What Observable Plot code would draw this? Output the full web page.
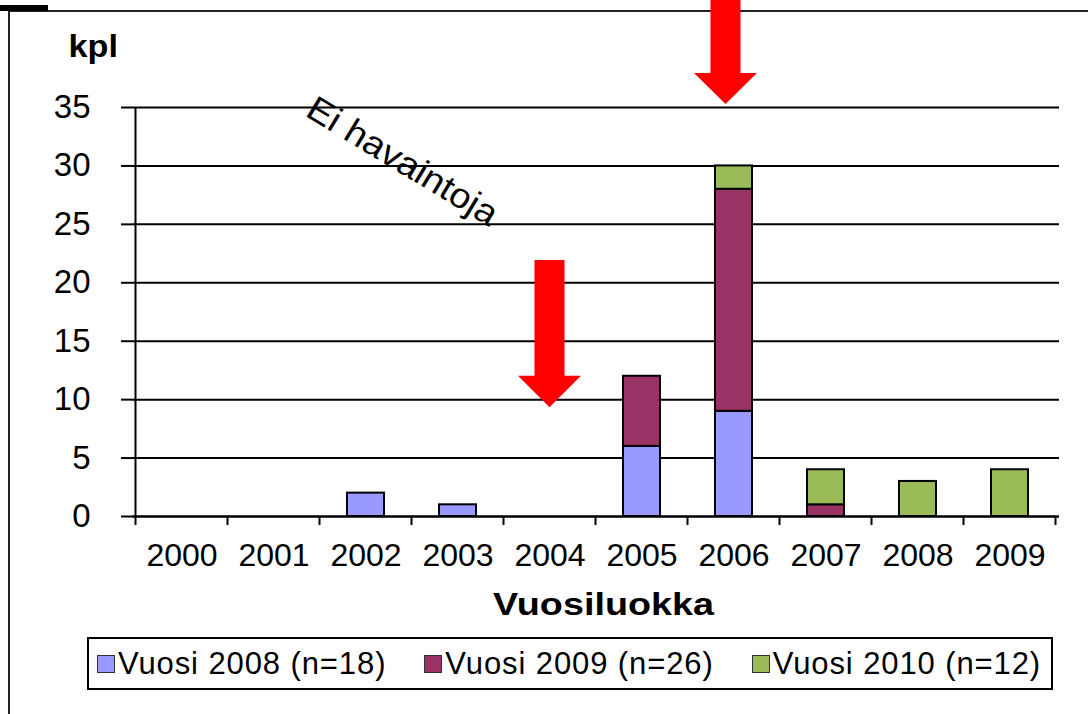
<!DOCTYPE html>
<html>
<head>
<meta charset="utf-8">
<script src="https://cdn.jsdelivr.net/npm/d3@7"></script>
<script src="https://cdn.jsdelivr.net/npm/@observablehq/plot@0.6"></script>
<style>
  html, body { margin: 0; padding: 0; background: white; }
  #wrap { position: relative; width: 1088px; height: 714px; overflow: hidden; font-family: "Liberation Sans", Arial, sans-serif; color: black; }
  #frameTop { position: absolute; left: 9px; top: 10px; width: 1079px; height: 2px; background: #222; }
  #frameLeft { position: absolute; left: 8px; top: 10px; width: 2px; height: 704px; background: #222; }
  #stub { position: absolute; left: 0; top: 5px; width: 48px; height: 6px; background: black; }
  #chart { position: absolute; left: 0; top: 0; }
  #legend { position: absolute; left: 87px; top: 637px; width: 966px; height: 53px; border: 2px solid black; box-sizing: border-box; background: white;
            display: flex; align-items: center; font-size: 31px; letter-spacing: 0.9px; white-space: nowrap; }
  .item { display: flex; align-items: center; }
  .sw { width: 16px; height: 16px; border: 1.5px solid #333; margin-right: 3px; }
</style>
</head>
<body>
<div id="wrap">
  <div id="frameTop"></div>
  <div id="frameLeft"></div>
  <div id="stub"></div>
  <div id="chart"></div>
  <div id="legend"></div>
</div>
<script>
const years = ["2000", "2001", "2002", "2003", "2004", "2005", "2006", "2007", "2008", "2009"];
const seriesNames = ["Vuosi 2008 (n=18)", "Vuosi 2009 (n=26)", "Vuosi 2010 (n=12)"];
const seriesColors = ["#9999FF", "#993366", "#9BBB59"];
const values2008 = [0, 0, 2, 1, 0, 6, 9, 0, 0, 0];
const values2009 = [0, 0, 0, 0, 0, 6, 19, 1, 0, 0];
const values2010 = [0, 0, 0, 0, 0, 0, 2, 3, 3, 4];
const yTicks = [0, 5, 10, 15, 20, 25, 30, 35];
const yLabel = "kpl";
const xLabel = "Vuosiluokka";
const noteText = "Ei havaintoja";
// arrow annotations: category, value at shaft top, value at head base, value at tip
const arrowYears = ["2004", "2006"];
const arrowTop = [21.9, 46];
const arrowBase = [12.0, 37.9];
const arrowTip = [9.3, 35.25];

const allSeries = [values2008, values2009, values2010];
const data = [];
allSeries.forEach((vals, s) => vals.forEach((v, i) => {
  if (v > 0) data.push({year: years[i], series: seriesNames[s], value: v});
}));

const W = 1088, H = 625;
const plot = Plot.plot({
  width: W, height: H,
  marginLeft: 132, marginRight: 29, marginTop: 107, marginBottom: 109,
  style: {background: "transparent", fontFamily: "'Liberation Sans', Arial, sans-serif", color: "black", overflow: "visible"},
  x: {type: "band", domain: years, paddingInner: 0.6, paddingOuter: 0.3, axis: null},
  y: {domain: [0, 35], axis: null},
  color: {domain: seriesNames, range: seriesColors},
  marks: [
    Plot.gridY(yTicks, {stroke: "black", strokeOpacity: 1, strokeWidth: 2}),
    Plot.barY(data, {x: "year", y: "value", fill: "series", stroke: "black", strokeWidth: 2}),
    Plot.axisY(yTicks, {tickSize: 11, tickPadding: 31, fontSize: 33, label: null, strokeWidth: 2}),
    Plot.axisX({tickSize: 0, tickPadding: 27, fontSize: 32, label: null}),
    Plot.ruleY([0], {stroke: "black", strokeWidth: 2})
  ]
});
document.getElementById("chart").appendChild(plot);

const xs = plot.scale("x");
const ys = plot.scale("y");
const step = xs.step;
const bw = xs.bandwidth;
const center = (yr) => xs.apply(yr) + bw / 2;
const svg = d3.select(plot);
const g = svg.append("g");

const y0 = ys.apply(0), yTop = ys.apply(35);
const xLeft = center(years[0]) - step / 2;
const xRight = center(years[years.length - 1]) + step / 2;
// left axis line
g.append("line").attr("x1", xLeft).attr("x2", xLeft).attr("y1", yTop).attr("y2", y0)
  .attr("stroke", "black").attr("stroke-width", 2);
// boundary ticks
for (let i = 0; i <= years.length; i++) {
  const x = xLeft + i * step;
  g.append("line").attr("x1", x).attr("x2", x).attr("y1", y0).attr("y2", y0 + 9)
    .attr("stroke", "black").attr("stroke-width", 2);
}
// arrows
arrowYears.forEach((yr, i) => {
  const cx = center(yr) + (i === 1 ? -8 : 0);
  const t = ys.apply(arrowTop[i]), b = ys.apply(arrowBase[i]), tip = ys.apply(arrowTip[i]);
  const sh = 15, hh = 31.5;
  const pts = [[cx - sh, t], [cx + sh, t], [cx + sh, b], [cx + hh, b], [cx, tip], [cx - hh, b], [cx - sh, b]];
  g.append("polygon").attr("points", pts.map(p => p.join(",")).join(" ")).attr("fill", "#FF0000");
});
// note text
g.append("text")
  .attr("transform", `translate(${center("2002") + 0.39 * step},${ys.apply(30.2)}) rotate(31) scale(1.08,1)`)
  .attr("text-anchor", "middle").attr("dominant-baseline", "middle")
  .attr("font-size", 35).attr("fill", "black").text(noteText);
// axis titles
g.append("text").attr("transform", "translate(118,57) scale(1.07,1)").attr("text-anchor", "end")
  .attr("font-size", 32).attr("font-weight", "bold").attr("fill", "black").text(yLabel);
g.append("text").attr("transform", `translate(${(xLeft + xRight) / 2 + 8},615) scale(1.18,1)`).attr("text-anchor", "middle")
  .attr("font-size", 32).attr("font-weight", "bold").attr("fill", "black").text(xLabel);

// legend
const legend = d3.select("#legend");
const gaps = [8, 38, 38];
seriesNames.forEach((name, i) => {
  const item = legend.append("div").attr("class", "item").style("margin-left", gaps[i] + "px");
  item.append("div").attr("class", "sw").style("background", seriesColors[i]);
  item.append("span").text(name);
});
</script>
</body>
</html>
